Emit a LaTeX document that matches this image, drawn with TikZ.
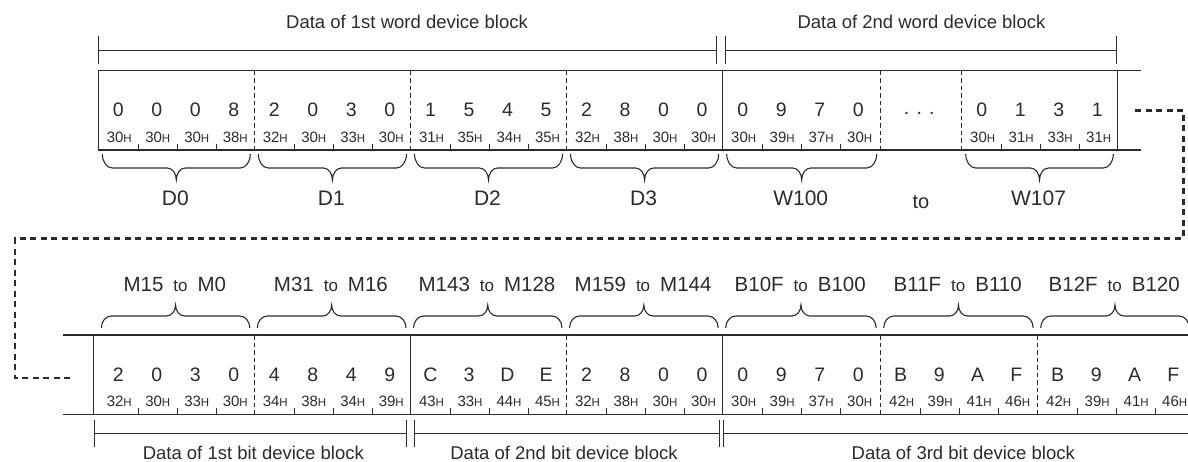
\documentclass[tikz,border=0pt]{standalone}
\usepackage{fontspec}
\setmainfont{Liberation Sans}
\definecolor{ink}{HTML}{2B2B2B}
\newcommand\hx[1]{{\fontsize{15}{16}\selectfont #1\fontsize{11.5}{12}\selectfont H}}
% brace: x1, x2, y of ends, offset of straight part, offset of tip
\newcommand\brc[5]{%
  \pgfmathsetmacro\bxc{(#1+#2)/2}%
  \draw[brcline] (#1,#3) .. controls (#1,#3+0.55*#4) and (#1+4.5,#3+#4) .. (#1+10,#3+#4)
    -- (\bxc-9,#3+#4) .. controls (\bxc-4,#3+#4) and (\bxc,#3+#4+0.45*#5-0.45*#4) .. (\bxc,#3+#5)
    .. controls (\bxc,#3+#4+0.45*#5-0.45*#4) and (\bxc+4,#3+#4) .. (\bxc+9,#3+#4)
    -- (#2-10,#3+#4) .. controls (#2-4.5,#3+#4) and (#2,#3+0.55*#4) .. (#2,#3);}
\tikzset{
  ln/.style={draw=ink, line width=1.2pt},
  sepline/.style={draw=ink, line width=0.9pt, dash pattern=on 4.5pt off 3pt},
  tk/.style={draw=ink, line width=0.9pt},
  brcline/.style={draw=ink, line width=1.1pt},
  con/.style={draw=ink, line width=2.5pt, dash pattern=on 6pt off 4.5pt},
  dig/.style={inner sep=0pt, anchor=base, text=ink, font=\fontsize{19.5}{20}\selectfont},
  hex/.style={inner sep=0pt, anchor=base, text=ink},
  lbl/.style={inner sep=0pt, anchor=base, text=ink, font=\fontsize{18.5}{20}\selectfont},
  dlbl/.style={inner sep=0pt, anchor=base, text=ink, font=\fontsize{21}{22}\selectfont},
  mlbl/.style={inner sep=0pt, anchor=base, text=ink, font=\fontsize{20.5}{22}\selectfont},
}
\newcommand\rng[2]{#1\hspace{10pt}{\fontsize{17}{18}\selectfont to}\hspace{10pt}#2}
\begin{document}
\begin{tikzpicture}[x=1pt,y=-1pt]
\useasboundingbox (0,0) rectangle (1188,461);
% ---------- top dimension ----------
\node[lbl] (tw1) at (407,28.3) {Data of 1st word device block};
\node[lbl] (tw2) at (921.5,28.3) {Data of 2nd word device block};
\draw[tk] (98.3,36) -- (98.3,64);
\draw[tk] (98.3,50) -- (716.7,50);
\draw[tk] (716.7,36) -- (716.7,64);
\draw[tk] (725,36) -- (725,64);
\draw[tk] (725,50) -- (1116.7,50);
\draw[tk] (1116.7,36) -- (1116.7,64);
% ---------- top frame ----------
\draw[ln] (98.3,150) -- (98.3,70.7) -- (1141,70.7);
\draw[ln] (98.3,150) -- (1141,150);
\draw[ln] (722.7,70.7) -- (722.7,150);
\draw[ln] (1117.3,70.7) -- (1117.3,150);
\foreach \x in {254.3,410.5,566.5,880.7,961.7} \draw[sepline] (\x,70.7) -- (\x,150);
% ---------- top cells ----------
\foreach \l/\a/\b/\c/\d/\p/\q/\r/\s [count=\i] in
  {98.3/0/0/0/8/30/30/30/38, 254.3/2/0/3/0/32/30/33/30, 410.5/1/5/4/5/31/35/34/35,
   566.5/2/8/0/0/32/38/30/30, 722.7/0/9/7/0/30/39/37/30, 961.7/0/1/3/1/30/31/33/31} {
  \node[dig] (t\i-a) at (\l+20,116.7) {\a};
  \node[dig] (t\i-b) at (\l+58.5,116.7) {\b};
  \node[dig] (t\i-c) at (\l+97,116.7) {\c};
  \node[dig] (t\i-d) at (\l+135.5,116.7) {\d};
  \node[hex] (t\i-p) at (\l+21,142.7) {\hx{\p}};
  \node[hex] (t\i-q) at (\l+59.5,142.7) {\hx{\q}};
  \node[hex] (t\i-r) at (\l+98.5,142.7) {\hx{\r}};
  \node[hex] (t\i-s) at (\l+137,142.7) {\hx{\s}};
  \foreach \k in {40,79,118} \draw[tk] (\l+\k,150) -- (\l+\k,143.5);
}
\node[dig] (tdots) at (919.2,114) {.\hspace{7.2pt}.\hspace{7.2pt}.};
% ---------- top braces ----------
\foreach \x/\y/\t [count=\i] in {98.3/254.3/D0, 254.3/410.5/D1, 410.5/566.5/D2, 566.5/722.7/D3, 722.7/880.7/W100, 961.7/1117.3/W107} {
  \brc{\x+4}{\y-4}{154}{14}{26}
  \node[dlbl] (dl\i) at ({(\x+\y)/2-1},205.7) {\t};
}
\node[inner sep=0pt, anchor=base, text=ink, font=\fontsize{20}{21}\selectfont] (tto) at (921,208.3) {to};
% ---------- connector ----------
\coordinate (c1) at (1135,110.7);
\coordinate (c2) at (1183.3,110.7);
\coordinate (c3) at (1183.3,238.5);
\coordinate (c4) at (15,238.5);
\coordinate (c5) at (15,378);
\coordinate (c6) at (70,378);
\draw[con] (c1) -- (c2) -- (c3) -- (c4) -- (c5) -- (c6);
% ---------- bottom frame ----------
\draw[ln] (63.3,335) -- (1188,335);
\draw[ln] (63.3,414.3) -- (1188,414.3);
\foreach \x in {93.3,410.5,722.7} \draw[ln] (\x,335) -- (\x,414.3);
\foreach \x in {254.3,566.5,880.7,1037.7} \draw[sepline] (\x,335) -- (\x,414.3);
% ---------- bottom cells ----------
\foreach \l/\a/\b/\c/\d/\p/\q/\r/\s [count=\i] in
  {98.3/2/0/3/0/32/30/33/30, 254.3/4/8/4/9/34/38/34/39, 410.5/C/3/D/E/43/33/44/45,
   566.5/2/8/0/0/32/38/30/30, 722.7/0/9/7/0/30/39/37/30, 880.7/B/9/A/F/42/39/41/46,
   1037.7/B/9/A/F/42/39/41/46} {
  \node[dig] (b\i-a) at (\l+20,381.7) {\a};
  \node[dig] (b\i-b) at (\l+58.5,381.7) {\b};
  \node[dig] (b\i-c) at (\l+97,381.7) {\c};
  \node[dig] (b\i-d) at (\l+135.5,381.7) {\d};
  \node[hex] (b\i-p) at (\l+21,406) {\hx{\p}};
  \node[hex] (b\i-q) at (\l+59.5,406) {\hx{\q}};
  \node[hex] (b\i-r) at (\l+98.5,406) {\hx{\r}};
  \node[hex] (b\i-s) at (\l+137,406) {\hx{\s}};
  \foreach \k in {40,79,118} \draw[tk] (\l+\k,414.3) -- (\l+\k,408);
}
% ---------- bottom braces ----------
\foreach \x/\y/\u/\v [count=\i] in {98.3/254.3/M15/M0, 254.3/410.5/M31/M16, 410.5/566.5/M143/M128,
   566.5/722.7/M159/M144, 722.7/880.7/B10F/B100, 880.7/1037.7/B11F/B110, 1037.7/1193.7/B12F/B120} {
  \brc{\x+3}{\y-4.5}{328}{-12}{-23}
  \node[mlbl] (ml\i) at ({(\x+\y)/2-1.5},291.7) {\rng{\u}{\v}};
}
% ---------- bottom dimension ----------
\draw[tk] (94.3,420) -- (94.3,446.7);
\draw[tk] (94.3,433.3) -- (406.7,433.3);
\draw[tk] (406.7,420) -- (406.7,446.7);
\draw[tk] (414.3,420) -- (414.3,446.7);
\draw[tk] (414.3,433.3) -- (719,433.3);
\draw[tk] (719,420) -- (719,446.7);
\draw[tk] (723.7,420) -- (723.7,446.7);
\draw[tk] (723.7,433.3) -- (1188,433.3);
\node[lbl] (bb1) at (253.3,459) {Data of 1st bit device block};
\node[lbl] (bb2) at (564,459) {Data of 2nd bit device block};
\node[lbl] (bb3) at (963.3,459) {Data of 3rd bit device block};
\end{tikzpicture}
\end{document}
